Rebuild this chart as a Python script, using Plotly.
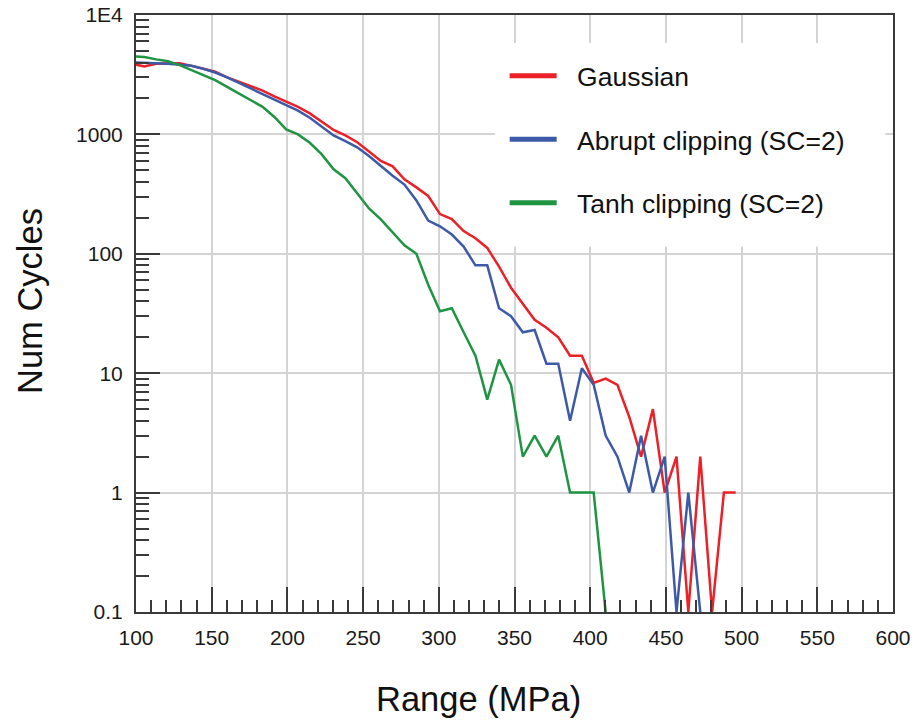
import plotly.graph_objects as go

# Bin centres of the stress range histogram (MPa)
range_mpa = [97.7, 105.5, 113.3, 121.1, 128.9, 136.7, 144.5, 152.3, 160.2, 168.0,
             175.8, 183.6, 191.4, 199.2, 207.0, 214.8, 222.7, 230.5, 238.3, 246.1,
             253.9, 261.7, 269.5, 277.3, 285.2, 293.0, 300.8, 308.6, 316.4, 324.2,
             332.0, 339.8, 347.7, 355.5, 363.3, 371.1, 378.9, 386.7, 394.5, 402.3,
             410.2, 418.0, 425.8, 433.6, 441.4, 449.2, 457.0, 464.8, 472.7, 480.5,
             488.3, 496.1]

gaussian = [3900, 3700, 3900, 3950, 3950, 3750, 3550, 3350, 3000, 2750,
            2530, 2330, 2080, 1880, 1700, 1500, 1280, 1090, 980, 860,
            720, 600, 540, 420, 360, 305, 215, 195, 155, 135,
            112, 78, 52, 38, 28, 24, 20, 14, 14, 8.3,
            9, 8, 4.3, 2, 5, 1, 2, 0, 2, 0,
            1, 1]

abrupt = [4000, 4000, 3950, 3900, 3850, 3750, 3550, 3300, 3000, 2700,
          2420, 2200, 1950, 1760, 1580, 1380, 1170, 980, 880, 780,
          660, 540, 450, 380, 280, 190, 170, 145, 115, 80,
          80, 35, 30, 22, 23, 12, 12, 4, 11, 8,
          3, 2, 1, 3, 1, 2, 0, 1, 0]

tanh = [4500, 4450, 4250, 4100, 3800, 3450, 3150, 2850, 2500, 2200,
        1930, 1700, 1400, 1100, 1000, 850, 680, 510, 430, 320,
        240, 194, 150, 118, 100, 55, 33, 35, 22, 14,
        6, 13, 8, 2, 3, 2, 3, 1, 1, 1,
        0]

series_names = ["Gaussian", "Abrupt clipping (SC=2)", "Tanh clipping (SC=2)"]
series_colors = ["#ec2027", "#3d5aa9", "#1f9443"]

x_ticks = [100, 150, 200, 250, 300, 350, 400, 450, 500, 550, 600]
y_ticks = [0.1, 1, 10, 100, 1000, 10000]
y_tick_text = ["0.1", "1", "10", "100", "1000", "1E4"]

FLOOR = 0.1  # zero counts drawn at the bottom of the log axis

FONT = "Arial, Liberation Sans, sans-serif"

fig = go.Figure()

for name, color, vals, grp in zip(series_names, series_colors,
                                  [gaussian, abrupt, tanh], ["g1", "g2", "g3"]):
    yv = [v if v > 0 else FLOOR for v in vals]
    fig.add_trace(go.Scatter(
        x=range_mpa[:len(yv)], y=yv, mode="lines", name=name,
        line=dict(color=color, width=2.5), showlegend=False,
        legendgroup=grp))
    fig.add_trace(go.Scatter(
        x=[None], y=[None], mode="lines", name="\u2002\u200a" + name,
        line=dict(color=color, width=5), showlegend=True,
        legendgroup=grp))

# white box behind the legend, hiding the grid (data coordinates)
fig.add_shape(type="rect", xref="x", yref="y",
              x0=337, x1=595, y0=115, y1=5830,
              fillcolor="white", line=dict(width=0), layer="between")

axis_line = "#3a3a3a"
grid = "#d4d4d4"

fig.update_xaxes(
    range=[100, 600], tickmode="array", tickvals=x_ticks,
    ticks="inside", ticklen=25, tickwidth=1.6, tickcolor=axis_line,
    showline=True, linecolor=axis_line, linewidth=2, mirror=True,
    showgrid=True, gridcolor=grid, gridwidth=1.8,
    minor=dict(dtick=10, ticks="inside", ticklen=12, tickwidth=1.6,
               tickcolor=axis_line, showgrid=False),
    tickfont=dict(family=FONT, size=21, color="#1a1a1a"),
    ticklabelstandoff=6, zeroline=False, automargin=False)

fig.update_yaxes(
    type="log", range=[-1, 4], tickmode="array", tickvals=y_ticks,
    ticktext=y_tick_text,
    ticks="inside", ticklen=24, tickwidth=1.6, tickcolor=axis_line,
    showline=True, linecolor=axis_line, linewidth=2, mirror=True,
    showgrid=True, gridcolor=grid, gridwidth=1.8,
    minor=dict(dtick="D1", ticks="inside", ticklen=13, tickwidth=1.6,
               tickcolor=axis_line, showgrid=False),
    tickfont=dict(family=FONT, size=21, color="#1a1a1a"),
    ticklabelstandoff=7, zeroline=False, automargin=False)

fig.add_annotation(text="Range (MPa)", xref="paper", yref="paper",
                   x=0.452, y=-0.146, xanchor="center", yanchor="middle",
                   showarrow=False,
                   font=dict(family=FONT, size=34.5, color="#111111"))
fig.add_annotation(text="Num Cycles", xref="paper", yref="paper",
                   x=-0.140, y=0.521, xanchor="center", yanchor="middle",
                   textangle=-90, showarrow=False,
                   font=dict(family=FONT, size=34.5, color="#111111"))

fig.update_layout(
    width=916, height=723,
    margin=dict(l=136, r=22.5, t=15, b=110.5),
    paper_bgcolor="white", plot_bgcolor="white",
    font=dict(family=FONT, color="#111111"),
    legend=dict(x=0.487, y=0.938, xanchor="left", yanchor="top",
                bgcolor="rgba(0,0,0,0)", borderwidth=0,
                font=dict(family=FONT, size=26.5, color="#111111"),
                itemwidth=47, tracegroupgap=26),
)

# remove the browser's default 8 px body margin so the figure sits at (0, 0)
fig.write_html("out.html",
               config={"displayModeBar": False, "responsive": False},
               post_script="document.body.style.margin='0px';")
